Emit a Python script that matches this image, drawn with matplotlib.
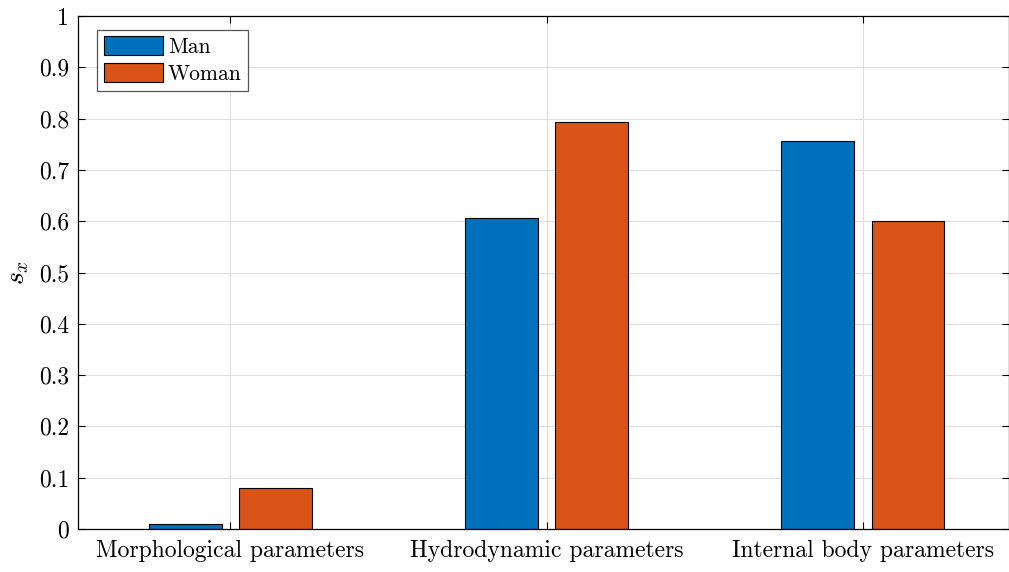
import numpy as np
import matplotlib
matplotlib.use("Agg")
import matplotlib.pyplot as plt

categories = ["Morphological parameters", "Hydrodynamic parameters", "Internal body parameters"]
man = [0.010, 0.606, 0.757]
woman = [0.080, 0.794, 0.600]
series_names = ["Man", "Woman"]
yticks = [0, 0.1, 0.2, 0.3, 0.4, 0.5, 0.6, 0.7, 0.8, 0.9, 1]

plt.rcParams["font.family"] = "cmr10"
plt.rcParams["mathtext.fontset"] = "cm"
plt.rcParams["axes.formatter.use_mathtext"] = True

fig = plt.figure(figsize=(10.09, 5.72), dpi=100)
ax = fig.add_axes([77.5 / 1009, 1 - 529 / 572, (1008.5 - 77.5) / 1009, (529 - 16) / 572])

x = np.arange(1, len(categories) + 1)
offset = 0.1425
width = 0.229
ax.bar(x - offset, man, width, color="#0072BD", edgecolor="black", linewidth=0.8,
       label=series_names[0], zorder=3)
ax.bar(x + offset, woman, width, color="#D95319", edgecolor="black", linewidth=0.8,
       label=series_names[1], zorder=3)

ax.set_xlim(0.5165, 3.461)
ax.set_ylim(0, 1)
ax.set_xticks(x)
ax.set_xticklabels(categories)
ax.set_yticks(yticks)
ax.set_yticklabels([f"{v:g}" for v in yticks])
ax.tick_params(axis="both", direction="in", top=True, right=True, labelsize=17,
               length=5, width=0.8, colors="black")
ax.tick_params(axis="x", pad=8)
ax.tick_params(axis="y", pad=6)
ax.grid(True, color="#dcdcdc", linewidth=0.7, zorder=0)
ax.set_axisbelow(True)
for s in ax.spines.values():
    s.set_linewidth(0.9)
    s.set_zorder(4)

ax.set_ylabel(r"$s_x$", fontsize=20, labelpad=6)

leg = ax.legend(loc="upper left", bbox_to_anchor=(0.021, 0.973), fontsize=15.5,
                fancybox=False, framealpha=1, edgecolor="#555555",
                handlelength=2.75, handleheight=0.95, handletextpad=0.25,
                borderpad=0.3, labelspacing=0.3, borderaxespad=0)
leg.get_frame().set_linewidth(0.9)

fig.savefig("out.png", dpi=100)
